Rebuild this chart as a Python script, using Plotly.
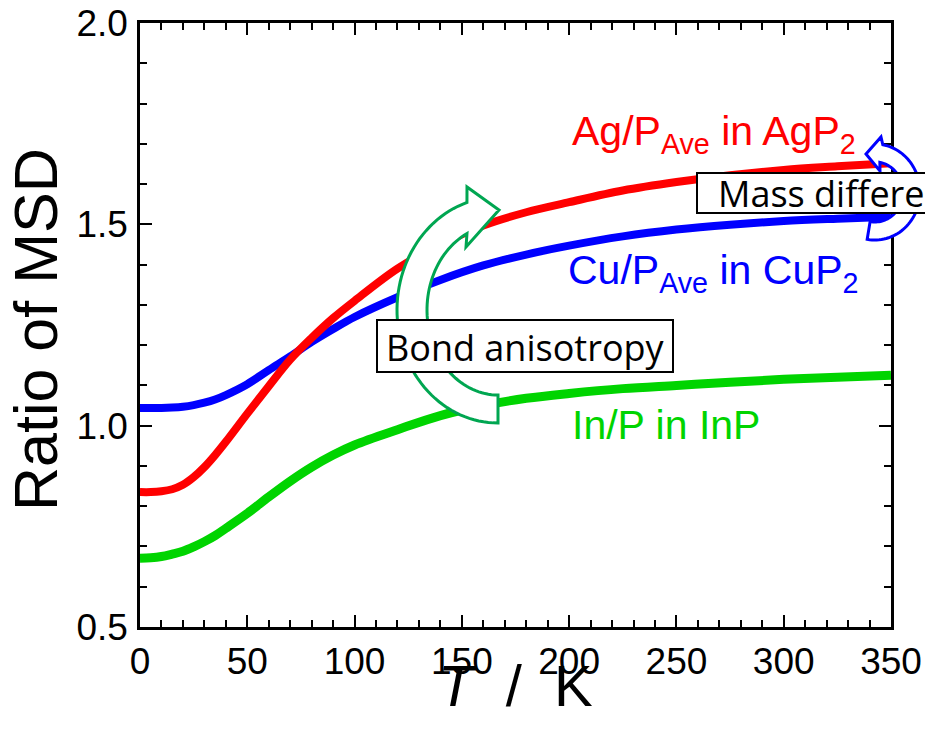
import numpy as np
import plotly.graph_objects as go

# ---------------- data ----------------
T = [0, 5, 10, 15, 20, 25, 30, 35, 40, 50, 60, 70, 80, 90, 100, 120, 140, 160, 180, 200, 225, 250,
     275, 300, 325, 350]
ag_p = [0.835, 0.835, 0.837, 0.842, 0.853, 0.872, 0.897, 0.927, 0.960, 1.030, 1.098, 1.164, 1.218,
        1.267, 1.310, 1.390, 1.450, 1.497, 1.530, 1.555, 1.584, 1.605, 1.622, 1.635, 1.644, 1.652]
cu_p = [1.044, 1.044, 1.044, 1.045, 1.047, 1.051, 1.057, 1.065, 1.076, 1.103, 1.138, 1.172, 1.208,
        1.240, 1.270, 1.319, 1.362, 1.398, 1.425, 1.447, 1.470, 1.487, 1.499, 1.508, 1.514, 1.519]
in_p = [0.671, 0.672, 0.675, 0.681, 0.688, 0.699, 0.712, 0.727, 0.745, 0.782, 0.823, 0.862, 0.897,
        0.927, 0.952, 0.990, 1.025, 1.050, 1.068, 1.080, 1.092, 1.100, 1.108, 1.115, 1.120, 1.125]

x_ticks = [0, 50, 100, 150, 200, 250, 300, 350]
y_ticks = [0.5, 1.0, 1.5, 2.0]
y_tick_text = ["0.5", "1.0", "1.5", "2.0"]

RED = "#FF0000"
BLUE = "#0000FF"
GREEN = "#00D400"
ARROW_GREEN = "#00A651"

OFF = 8  # default page body margin
W, H = 925, 728
L, R, TOP, B = 132, 42, 15, 109
PW, PH = W - L - R, H - TOP - B


def pp(px, py):
    """screen pixel -> paper coordinates"""
    return (px - OFF - L) / PW, (H - B - (py - OFF)) / PH


def path_from(points):
    pts = [pp(x, y) for x, y in points]
    s = "M %.5f %.5f " % pts[0]
    for p in pts[1:]:
        s += "L %.5f %.5f " % p
    return s + "Z"


def arc(cx, cy, a, b, t0, t1, n=60):
    th = np.radians(np.linspace(t0, t1, n))
    return list(zip(cx + a * np.cos(th), cy + b * np.sin(th)))


fig = go.Figure()
fig.add_trace(go.Scatter(x=T, y=in_p, mode="lines", line=dict(color=GREEN, width=9, shape="spline"),
                         name="In/P in InP"))
fig.add_trace(go.Scatter(x=T, y=cu_p, mode="lines", line=dict(color=BLUE, width=8, shape="spline"),
                         name="Cu/P in CuP2"))
fig.add_trace(go.Scatter(x=T, y=ag_p, mode="lines", line=dict(color=RED, width=8, shape="spline"),
                         name="Ag/P in AgP2"))

tickfont = dict(family="Liberation Sans, Arial, sans-serif", size=37, color="black")
axis_common = dict(showline=True, linecolor="black", linewidth=2.5, mirror="ticks",
                   ticks="inside", ticklen=12, tickwidth=2, tickcolor="black",
                   showgrid=False, zeroline=False, tickfont=tickfont, automargin=False,
                   ticklabeloverflow="allow")

fig.update_xaxes(range=[0, 350], tickvals=x_ticks, ticklabelstandoff=0,
                 minor=dict(dtick=10, ticks="inside", ticklen=7, tickwidth=2, tickcolor="black"),
                 **axis_common)
fig.update_yaxes(range=[0.5, 2.0], tickvals=y_ticks, ticktext=y_tick_text, ticklabelstandoff=2,
                 minor=dict(dtick=0.1, ticks="inside", ticklen=7, tickwidth=2, tickcolor="black"),
                 **axis_common)

# --- green curved arrow (bond anisotropy) ---
g_outer = arc(498, 310, 101, 113, 90, 252.1)
g_inner = arc(498, 310, 71, 85, 244.1, 90)
g_pts = g_outer + [(467, 187), (499, 210), (466, 247)] + g_inner
# --- blue curved arrow (mass difference) ---
b_outer = arc(875, 192, 45, 48, -80, 100)
b_inner = arc(875, 192, 28, 30, 100, -80)
b_pts = [(866, 154), (881, 137)] + b_outer + b_inner + [(880, 171)]

shapes = [
    dict(type="path", path=path_from(g_pts), xref="paper", yref="paper",
         line=dict(color=ARROW_GREEN, width=3), fillcolor="white", layer="above"),
    dict(type="path", path=path_from(b_pts), xref="paper", yref="paper",
         line=dict(color=BLUE, width=3), fillcolor="white", layer="above"),
]
x0, y0 = pp(377, 372)
x1, y1 = pp(673, 320)
shapes.append(dict(type="rect", xref="paper", yref="paper", x0=x0, y0=y0, x1=x1, y1=y1,
                   line=dict(color="black", width=2), fillcolor="white", layer="above"))
x0, y0 = pp(697, 213)
x1, y1 = pp(929, 173)
shapes.append(dict(type="rect", xref="paper", yref="paper", x0=x0, y0=y0, x1=x1, y1=y1,
                   line=dict(color="black", width=2), fillcolor="white", layer="above"))
fig.update_layout(shapes=shapes)

lab_font = "Liberation Sans, Arial, sans-serif"
ann = []


def add_text(px, py, text, size, color, family=lab_font, xanchor="left", yanchor="middle", angle=0):
    x, y = pp(px, py)
    ann.append(dict(x=x, y=y, xref="paper", yref="paper", text=text, showarrow=False,
                    xanchor=xanchor, yanchor=yanchor, textangle=angle,
                    font=dict(family=family, size=size, color=color)))


add_text(570, 134, "Ag/P<sub>Ave</sub> in AgP<sub>2</sub>", 41, RED)
add_text(566, 273, "Cu/P<sub>Ave</sub> in CuP<sub>2</sub>", 41, BLUE)
add_text(570, 425, "In/P in InP", 41, GREEN)
add_text(525, 347, "Bond anisotropy", 36, "black", family="Open Sans, sans-serif", xanchor="center")
add_text(716, 193, "Mass differe", 36, "black", family="Open Sans, sans-serif")
add_text(515, 686, "<i>T</i>\u00a0\u00a0/\u00a0\u00a0K", 58, "black", xanchor="center")
add_text(36, 330, "Ratio of MSD", 61, "black", xanchor="center", angle=-90)
fig.update_layout(annotations=ann)

fig.update_layout(width=W, height=H, margin=dict(l=L, r=R, t=TOP, b=B, autoexpand=False),
                  plot_bgcolor="white", paper_bgcolor="white", showlegend=False)

fig.write_html("out.html")
